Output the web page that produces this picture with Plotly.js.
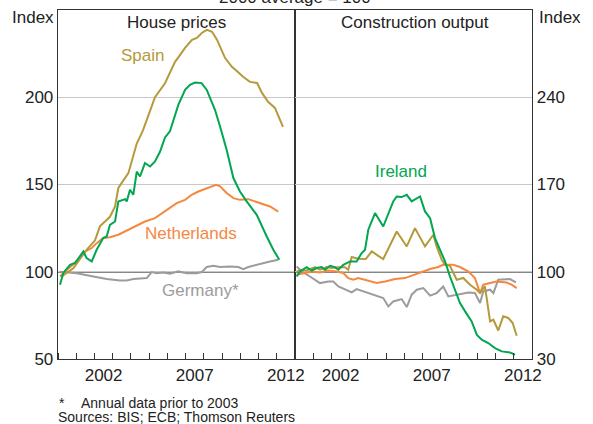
<!DOCTYPE html>
<html>
<head>
<meta charset="utf-8">
<script src="https://cdn.plot.ly/plotly-3.0.1.min.js"></script>
<style>html,body{margin:0;padding:0;background:#fff;}#chart{width:593px;height:424px;}</style>
</head>
<body>
<div id="chart"></div>
<script>
// ---------- House prices (left panel, left axis) ----------
const spainHouseX = [2000.16,2000.84,2001.57,2002.03,2002.30,2002.85,2003.13,2003.31,2003.86,2004.32,2004.66,2005.05,2005.32,2005.87,2006.14,2006.42,2006.58,2006.97,2007.35,2007.62,2007.90,2008.17,2008.45,2008.72,2009.16,2009.54,2009.87,2010.15,2010.53,2010.92,2011.19,2011.52,2011.90,2012.34];
const spainHouseY = [97,102,112.6,118,126,131.5,137.4,148,156.5,173.5,181,192.8,200,208,214.5,220.3,222.6,228.3,232.9,234,237,238.6,237.5,233,222.6,217.4,214.5,211.7,208.8,208.2,202.5,197.4,193.9,183];

const irelandHouseX = [2000.11,2000.29,2000.66,2000.93,2001.39,2001.57,2001.85,2002.12,2002.48,2002.67,2002.85,2003.13,2003.31,2003.68,2003.77,2003.95,2004.13,2004.32,2004.50,2004.77,2005.05,2005.32,2005.60,2005.87,2006.14,2006.42,2006.60,2006.97,2007.24,2007.52,2007.88,2008.16,2008.61,2008.89,2009.25,2009.62,2009.98,2010.35,2010.90,2011.45,2011.81,2012.14];
const irelandHouseY = [92.5,99.3,104,105,111.6,107.8,105.9,112.6,119.3,120.2,126.9,128.8,140.3,141.6,140.3,147,144.1,157.4,154.6,162.3,160.3,163.2,168.9,177,180.5,189,195.6,204.2,207.1,208.4,208.1,204.2,192.8,183.2,169.9,153.7,146,140.3,132.6,120.2,112.6,106.9];

const nethHouseX = [2000.11,2000.38,2000.93,2001.48,2001.85,2002.12,2002.48,2002.85,2003.31,2003.86,2004.40,2004.77,2005.32,2005.87,2006.14,2006.51,2006.97,2007.33,2007.70,2008.06,2008.43,2008.67,2008.89,2009.25,2009.62,2009.98,2010.44,2010.81,2011.26,2011.63,2012.08];
const nethHouseY = [97.3,100.2,105,111.6,113.6,116.4,119.3,119.8,121.2,124.1,126.9,128.8,130.7,134.5,136.5,139.3,141.2,144.1,146,147.4,148.9,149.8,148.9,145.1,142.2,141.2,141.6,140.3,138.4,137.4,134.5];

const germHouseX = [2000.11,2001.03,2001.94,2002.67,2003.40,2003.77,2004.13,2004.87,2005.14,2005.41,2005.78,2006.14,2006.60,2007.06,2007.61,2007.88,2008.16,2008.52,2008.89,2009.43,2009.89,2010.16,2010.44,2011.08,2011.63,2012.08];
const germHouseY = [100,99.2,97.3,95.8,95,95,95.8,96.4,99.8,99.2,99.6,98.9,100.2,99.2,99.2,99.8,102.7,103.4,102.7,103,102.7,101.5,102.7,104.6,105.9,106.9];

// ---------- Construction output (right panel, right axis) ----------
const irelandConsX = [2000.09,2000.27,2000.64,2000.92,2001.19,2001.46,2001.65,2001.92,2002.19,2002.38,2002.65,2003.02,2003.38,2003.66,2003.84,2004.02,2004.39,2004.84,2005.39,2005.58,2005.85,2006.13,2006.40,2006.86,2007.13,2007.41,2007.68,2007.95,2008.23,2008.50,2008.78,2009.05,2009.33,2009.69,2009.97,2010.24,2010.60,2010.97,2011.34,2011.79,2012.07];
const irelandConsY = [96.2,100.3,103.7,101,103,103.7,101.6,104.8,103.7,101.6,105.6,108.3,108.3,115,117.6,133.7,147.1,136.3,156.4,160.4,159.9,161.7,156.4,160.4,148.4,143,127,117.6,108.3,96.2,85.6,74.9,68.2,60.1,49.5,45.5,42.8,38.8,36.1,35.3,33.4];

const spainConsX = [2000.09,2000.27,2000.64,2001.10,2001.37,2001.74,2002.01,2002.38,2002.74,2002.92,2003.11,2003.47,2003.88,2004.21,2004.57,2004.84,2005.58,2006.13,2006.58,2007.13,2007.59,2007.77,2008.05,2008.23,2008.50,2008.87,2009.23,2009.60,2009.97,2010.15,2010.42,2010.70,2010.88,2011.15,2011.42,2011.70,2011.94,2012.16];
const spainConsY = [100,101.6,101,103.7,101.6,103.7,103,103.7,103.7,101.6,111.8,110.4,110.2,116.3,112.8,110.2,132.3,120.3,135,120.3,129.7,120.3,109.6,105.6,104.8,93.6,95,89.6,85.6,82.9,88.2,60.1,61.5,52.9,64.2,62.9,58.9,48.7];

const nethConsX = [2000.09,2000.46,2000.92,2001.37,2001.83,2002.29,2002.65,2002.92,2003.20,2003.47,2003.84,2004.48,2004.94,2005.49,2006.03,2006.54,2006.86,2007.41,2007.86,2008.13,2008.68,2009.05,2009.51,2009.87,2010.15,2010.33,2010.70,2011.06,2011.61,2011.88,2012.16];
const nethConsY = [97.6,99,100.2,99.5,101,100.2,99,94.9,93.6,94.9,93.6,90.9,92.2,94.1,94.9,97.6,99,102.2,103.8,105.6,105.6,103.8,100.2,94.9,82.9,89.6,90.9,92.2,91.4,89.6,86.9];

const germConsX = [2000.09,2000.37,2000.82,2001.37,2001.83,2002.10,2002.38,2002.84,2003.11,2003.38,2003.75,2004.21,2004.84,2005.12,2005.39,2005.85,2006.13,2006.40,2006.68,2007.04,2007.41,2007.77,2008.13,2008.41,2008.96,2009.51,2009.87,2010.15,2010.33,2010.70,2010.88,2011.15,2011.79,2012.12];
const germConsY = [104.3,100.3,96.2,90.9,92.2,92.2,88.2,85.6,83.5,86.1,84.2,81.6,78.9,72.2,76.2,78.1,71.7,81.6,85.6,86.9,80.8,82.9,88.2,80.2,81.6,83.4,82.9,74.9,84.2,85.6,82.9,93.6,94.1,91.4];

// ---------- ticks ----------
const xTickVals = [2002.5, 2007.5, 2012.5];
const xTickText = ['2002', '2007', '2012'];
const leftTickVals = [50, 100, 150, 200];
const rightTickVals = [30, 100, 170, 240];

const C = {spain:'#b59a3b', ireland:'#00a650', neth:'#f5883f', germ:'#9c9c9c', text:'#222222', axis:'#333333', grid:'#c8c8c8'};
const FONT = 'Liberation Sans, Arial, sans-serif';

function line(x, y, color, xa, ya) {
  return {x:x, y:y, type:'scatter', mode:'lines', xaxis:xa, yaxis:ya,
          line:{color:color, width:2}, hoverinfo:'skip', showlegend:false};
}

const traces = [
  line(germHouseX, germHouseY, C.germ, 'x', 'y'),
  line(nethHouseX, nethHouseY, C.neth, 'x', 'y'),
  line(spainHouseX, spainHouseY, C.spain, 'x', 'y'),
  line(irelandHouseX, irelandHouseY, C.ireland, 'x', 'y'),
  line(germConsX, germConsY, C.germ, 'x2', 'y2'),
  line(nethConsX, nethConsY, C.neth, 'x2', 'y2'),
  line(spainConsX, spainConsY, C.spain, 'x2', 'y2'),
  line(irelandConsX, irelandConsY, C.ireland, 'x2', 'y2')
];

const xCommon = {
  range:[2000, 2013], tickmode:'array', tickvals:xTickVals, ticktext:xTickText,
  ticks:'', showgrid:false, zeroline:false, showline:true, mirror:true,
  linecolor:C.axis, linewidth:1.3,
  tickfont:{family:FONT, size:17, color:C.text},
  minor:{tickmode:'linear', tick0:2000, dtick:1, ticks:'inside', ticklen:6, tickcolor:C.axis, tickwidth:1, showgrid:false}
};

function ann(text, x, y, color, xref, yref, extra) {
  return Object.assign({text:text, x:x, y:y, xref:xref||'paper', yref:yref||'paper', showarrow:false,
    xanchor:'center', font:{family:FONT, size:17, color:color||C.text}}, extra||{});
}

function foot(text, xshift, yshift) {
  return {text:text, x:0, y:0, xref:'paper', yref:'paper', xanchor:'left', yanchor:'middle',
          xshift:xshift, yshift:yshift, borderpad:0, showarrow:false,
          font:{family:FONT, size:14, color:C.text}};
}

const layout = {
  width:593, height:424,
  margin:{l:58, r:61, t:10, b:65},
  paper_bgcolor:'#ffffff', plot_bgcolor:'rgba(0,0,0,0)',
  showlegend:false,
  xaxis:Object.assign({}, xCommon, {domain:[0, 0.5], anchor:'y'}),
  xaxis2:Object.assign({}, xCommon, {domain:[0.5, 1], anchor:'y2'}),
  yaxis:{range:[50, 250], tickmode:'array', tickvals:leftTickVals, ticks:'', showgrid:true, gridcolor:C.grid, gridwidth:1.3,
         zeroline:false, showline:true, mirror:true, linecolor:C.axis, linewidth:1.3, anchor:'x',
         tickfont:{family:FONT, size:17, color:C.text}},
  yaxis2:{range:[30, 310], tickmode:'array', tickvals:rightTickVals, ticks:'', showgrid:true, gridcolor:C.grid, gridwidth:1.3,
          zeroline:false, showline:true, mirror:true, linecolor:C.axis, linewidth:1.3, anchor:'x2', side:'right',
          tickfont:{family:FONT, size:17, color:C.text}},
  shapes:[
    {type:'line', xref:'paper', yref:'y', x0:0, x1:1, y0:100, y1:100, layer:'below', line:{color:'#111', width:1.5}}
  ],
  annotations:[
    ann('2000 average = 100', 0.5, 1, C.text, 'paper', 'paper', {yanchor:'middle', yshift:13}),
    ann('Index', -0.005, 1, C.text, 'paper', 'paper', {xanchor:'right', yanchor:'middle', yshift:-7}),
    ann('Index', 1.01, 1, C.text, 'paper', 'paper', {xanchor:'left', yanchor:'middle', yshift:-7}),
    ann('House prices', 0.2505, 1, C.text, 'paper', 'paper', {yanchor:'middle', yshift:-12}),
    ann('Construction output', 0.7525, 1, C.text, 'paper', 'paper', {yanchor:'middle', yshift:-12}),
    ann('Spain', 2004.66, 224, C.spain, 'x', 'y', {yanchor:'middle'}),
    ann('Netherlands', 2007.3, 122, C.neth, 'x', 'y', {yanchor:'middle'}),
    ann('Germany*', 2007.8, 89, C.germ, 'x', 'y', {yanchor:'middle'}),
    ann('Ireland', 2005.8, 180.4, C.ireland, 'x2', 'y2', {yanchor:'middle'}),
    foot('*', 0, -44),
    foot('Annual data prior to 2003', 22, -44),
    foot('Sources: BIS; ECB; Thomson Reuters', -1, -57.5)
  ]
};

Plotly.newPlot('chart', traces, layout, {staticPlot:true, displayModeBar:false});
</script>
</body>
</html>
